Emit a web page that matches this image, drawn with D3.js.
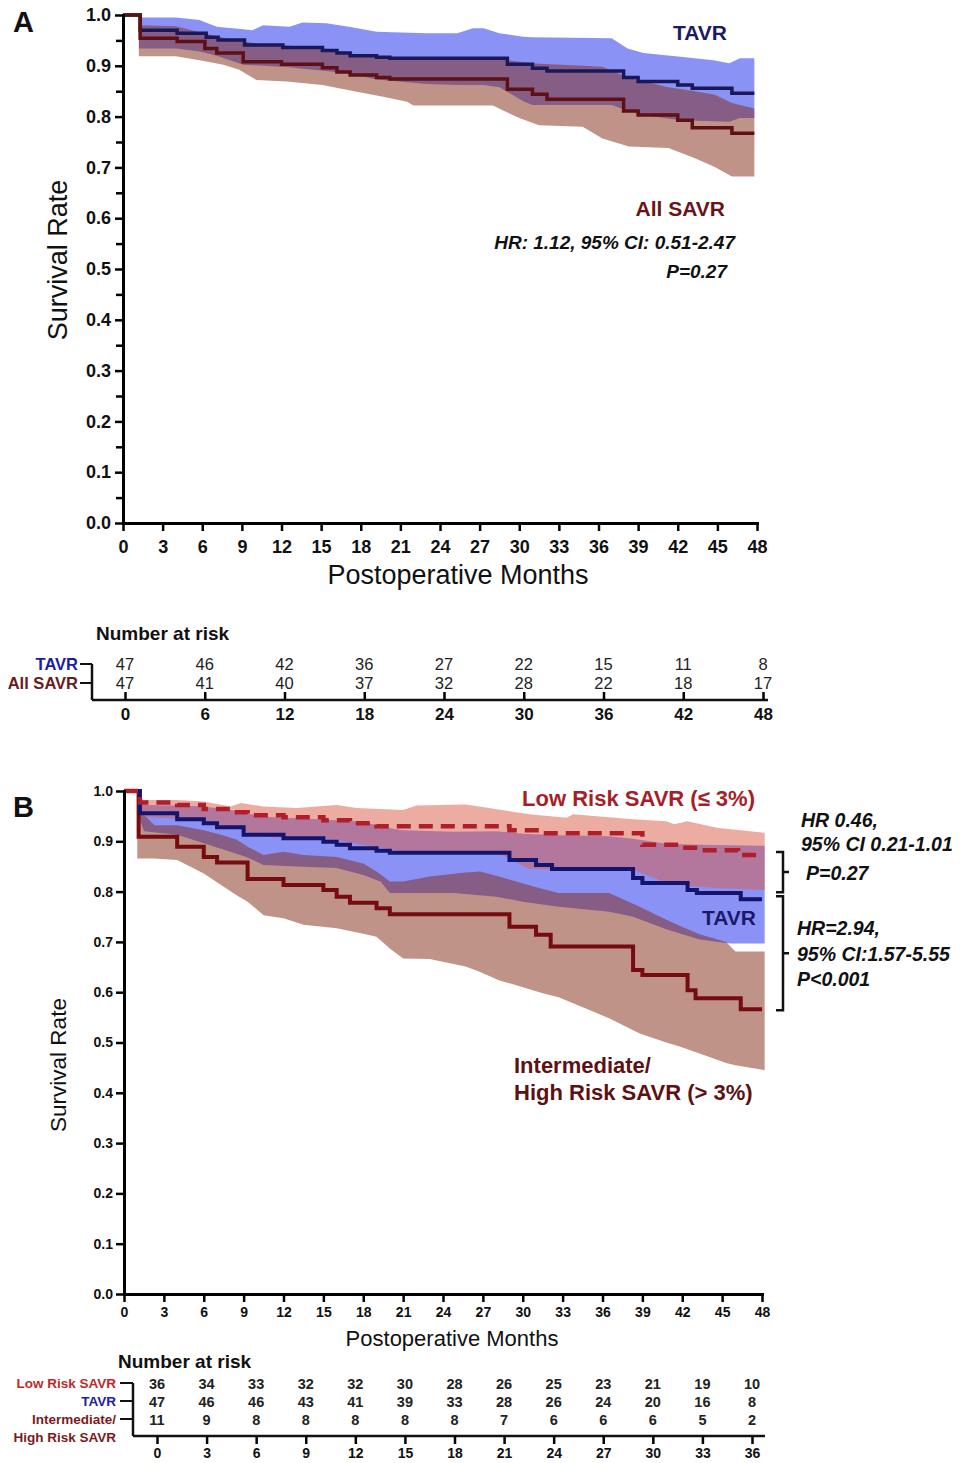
<!DOCTYPE html>
<html>
<head>
<meta charset="utf-8">
<script src="https://cdn.jsdelivr.net/npm/d3@7/dist/d3.min.js"></script>
<style>
body { margin: 0; background: #fff; }
svg { display: block; font-family: "Liberation Sans", Arial, Helvetica, sans-serif; }
</style>
</head>
<body>
<svg id="chart" width="960" height="1463"></svg>
<script>
// ---- shared ticks ----
const monthTicks = [0, 3, 6, 9, 12, 15, 18, 21, 24, 27, 30, 33, 36, 39, 42, 45, 48];
const survTicks = [0, 0.1, 0.2, 0.3, 0.4, 0.5, 0.6, 0.7, 0.8, 0.9, 1.0];
const survMinorTicks = [0.05, 0.15, 0.25, 0.35, 0.45, 0.55, 0.65, 0.75, 0.85, 0.95];

// ---- panel A: Kaplan-Meier steps ----
const endA = 47.8;
const tavrA_t = [0, 1.3, 4.1, 6.3, 7.2, 9.2, 12.1, 15.1, 16.2, 17.2, 19.2, 20.2, 29.1, 31.0, 32.1, 37.9, 39.0, 42.0, 43.1, 46.1];
const tavrA_s = [1.0, 0.970, 0.964, 0.956, 0.951, 0.941, 0.936, 0.930, 0.925, 0.920, 0.917, 0.915, 0.903, 0.895, 0.890, 0.877, 0.869, 0.862, 0.856, 0.846];
const savrA_t = [0, 1.3, 4.1, 6.2, 7.1, 9.1, 12.0, 15.1, 16.2, 17.2, 19.2, 20.2, 29.1, 31.0, 32.1, 37.9, 39.0, 42.0, 43.1, 46.1];
const savrA_s = [1.0, 0.954, 0.948, 0.934, 0.925, 0.908, 0.903, 0.896, 0.888, 0.882, 0.877, 0.874, 0.854, 0.844, 0.834, 0.811, 0.803, 0.793, 0.778, 0.767];

// panel A: 95% CI bands
const tavrA_ciT = [1.2, 4.0, 5.8, 7.1, 9.1, 9.8, 10.6, 12.6, 13.6, 15.4, 17.1, 19.2, 23.0, 25.3, 26.5, 27.3, 28.5, 30.3, 31.0, 37.0, 38.2, 39.4, 42.2, 44.7, 45.9, 46.7, 47.8];
const tavrA_hi = [0.995, 0.995, 0.990, 0.977, 0.972, 0.970, 0.980, 0.977, 0.985, 0.984, 0.977, 0.967, 0.964, 0.964, 0.974, 0.974, 0.964, 0.957, 0.956, 0.954, 0.934, 0.925, 0.918, 0.911, 0.905, 0.915, 0.915];
const tavrA_lo = [0.934, 0.934, 0.928, 0.920, 0.902, 0.901, 0.900, 0.897, 0.894, 0.890, 0.885, 0.873, 0.864, 0.862, 0.862, 0.862, 0.858, 0.830, 0.823, 0.823, 0.812, 0.803, 0.793, 0.791, 0.790, 0.797, 0.797];
const savrA_ciT = [1.2, 4.0, 5.8, 7.6, 8.8, 10.1, 12.4, 15.1, 17.7, 19.7, 21.5, 22.0, 28.0, 30.0, 31.5, 34.8, 36.3, 38.3, 41.3, 43.3, 44.8, 46.1, 47.8];
const savrA_hi = [0.980, 0.978, 0.966, 0.955, 0.950, 0.944, 0.940, 0.935, 0.922, 0.917, 0.913, 0.912, 0.915, 0.908, 0.904, 0.900, 0.898, 0.876, 0.858, 0.850, 0.843, 0.827, 0.816];
const savrA_lo = [0.919, 0.919, 0.911, 0.902, 0.892, 0.872, 0.869, 0.862, 0.849, 0.839, 0.829, 0.822, 0.822, 0.797, 0.783, 0.780, 0.757, 0.741, 0.738, 0.718, 0.701, 0.682, 0.682];

// panel A: number at risk
const riskMonthsA = [0, 6, 12, 18, 24, 30, 36, 42, 48];
const tavrRiskA = [47, 46, 42, 36, 27, 22, 15, 11, 8];
const savrRiskA = [47, 41, 40, 37, 32, 28, 22, 18, 17];

// ---- panel B: Kaplan-Meier steps ----
const endB = 48;
const lowB_t = [0, 1.2, 4.0, 6.0, 8.5, 9.3, 12.0, 15.0, 17.0, 19.0, 29.0, 31.3, 39.0, 42.0, 43.5, 46.2];
const lowB_s = [1.0, 0.977, 0.972, 0.964, 0.958, 0.952, 0.948, 0.942, 0.936, 0.930, 0.922, 0.916, 0.893, 0.887, 0.882, 0.873];
const tavrB_t = [0, 1.2, 4.0, 6.0, 7.0, 9.0, 12.0, 15.0, 16.0, 17.0, 19.0, 20.0, 29.0, 31.0, 32.2, 38.3, 39.0, 42.4, 43.1, 46.4];
const tavrB_s = [1.0, 0.956, 0.944, 0.936, 0.928, 0.913, 0.906, 0.899, 0.893, 0.886, 0.881, 0.877, 0.863, 0.853, 0.845, 0.827, 0.817, 0.803, 0.797, 0.785];
const highB_t = [0, 1.1, 4.0, 6.0, 7.0, 9.3, 12.0, 15.0, 16.0, 17.0, 19.0, 20.0, 29.0, 31.0, 32.1, 38.3, 39.0, 42.4, 43.0, 46.4];
const highB_s = [1.0, 0.909, 0.889, 0.869, 0.858, 0.825, 0.813, 0.803, 0.790, 0.778, 0.767, 0.755, 0.730, 0.714, 0.691, 0.644, 0.634, 0.604, 0.588, 0.566];

// panel B: 95% CI bands
const lowB_ciT = [1.2, 4.0, 6.0, 8.0, 8.8, 10.5, 13.0, 16.0, 17.5, 21.0, 22.0, 25.7, 28.2, 30.5, 33.3, 33.8, 38.3, 40.8, 41.4, 42.4, 44.6, 48.2];
const lowB_hi = [0.982, 0.982, 0.979, 0.969, 0.976, 0.969, 0.966, 0.972, 0.966, 0.962, 0.971, 0.973, 0.963, 0.954, 0.947, 0.954, 0.944, 0.940, 0.934, 0.940, 0.927, 0.917];
const lowB_lo = [0.949, 0.945, 0.939, 0.929, 0.922, 0.909, 0.906, 0.903, 0.895, 0.880, 0.879, 0.877, 0.876, 0.845, 0.843, 0.843, 0.843, 0.818, 0.815, 0.811, 0.807, 0.803];
const tavrB_ciT = [1.0, 1.5, 4.0, 6.0, 8.0, 9.3, 9.7, 10.5, 13.0, 16.0, 18.0, 19.3, 20.0, 21.0, 24.8, 28.0, 30.0, 32.7, 36.5, 38.3, 38.8, 40.8, 43.3, 45.6, 48.2];
const tavrB_hi = [0.985, 0.972, 0.971, 0.969, 0.962, 0.956, 0.953, 0.949, 0.946, 0.942, 0.939, 0.930, 0.926, 0.922, 0.919, 0.920, 0.915, 0.912, 0.910, 0.905, 0.903, 0.895, 0.893, 0.892, 0.891];
const tavrB_lo = [0.960, 0.920, 0.913, 0.896, 0.879, 0.868, 0.863, 0.853, 0.850, 0.847, 0.833, 0.820, 0.797, 0.797, 0.797, 0.790, 0.780, 0.770, 0.760, 0.750, 0.745, 0.725, 0.705, 0.697, 0.697];
const highB_ciT = [1.0, 2.3, 4.0, 6.0, 7.3, 8.5, 9.3, 10.5, 12.0, 13.5, 16.0, 18.0, 19.0, 20.0, 21.0, 23.0, 25.7, 26.8, 28.2, 31.5, 32.7, 35.6, 36.5, 38.8, 40.8, 41.8, 43.3, 45.3, 46.0, 48.2];
const highB_hi = [0.965, 0.932, 0.932, 0.922, 0.913, 0.903, 0.889, 0.873, 0.879, 0.873, 0.869, 0.856, 0.840, 0.820, 0.820, 0.830, 0.838, 0.840, 0.830, 0.805, 0.797, 0.797, 0.797, 0.770, 0.744, 0.732, 0.715, 0.700, 0.681, 0.681];
const highB_lo = [0.866, 0.866, 0.863, 0.836, 0.813, 0.792, 0.780, 0.753, 0.747, 0.734, 0.727, 0.716, 0.710, 0.687, 0.667, 0.666, 0.651, 0.640, 0.624, 0.598, 0.590, 0.558, 0.548, 0.518, 0.500, 0.492, 0.478, 0.459, 0.455, 0.445];

// panel B: number at risk
const riskMonthsB = [0, 3, 6, 9, 12, 15, 18, 21, 24, 27, 30, 33, 36];
const lowRiskB = [36, 34, 33, 32, 32, 30, 28, 26, 25, 23, 21, 19, 10];
const tavrRiskB = [47, 46, 46, 43, 41, 39, 33, 28, 26, 24, 20, 16, 8];
const highRiskB = [11, 9, 8, 8, 8, 8, 8, 7, 6, 6, 6, 5, 2];

// ---- colours ----
const navy = '#1a1858';
const maroon = '#5e1014';
const blueBand = 'rgb(60,75,238)';
const brownBand = 'rgb(130,40,20)';
const pinkBand = 'rgb(220,90,70)';

const svg = d3.select('#chart');

function steps(t, s, end) {
	return t.map((m, i) => [m, s[i]]).concat([[end, s[s.length - 1]]]);
}

function band(t, lo, hi) {
	return t.map((m, i) => [m, lo[i], hi[i]]);
}

function drawBand(g, x, y, data, fill, op) {
	g.append('path')
		.datum(data)
		.attr('fill', fill)
		.attr('fill-opacity', op)
		.attr('d', d3.area()
			.x(d => x(d[0]))
			.y0(d => y(d[1]))
			.y1(d => y(d[2])));
}

function drawStep(g, x, y, data, color, width, dash) {
	g.append('path')
		.datum(data)
		.attr('fill', 'none')
		.attr('stroke', color)
		.attr('stroke-width', width)
		.attr('stroke-dasharray', dash || null)
		.attr('d', d3.line()
			.x(d => x(d[0]))
			.y(d => y(d[1]))
			.curve(d3.curveStepAfter));
}

function styleAxis(sel, fontSize, domainW, tickW) {
	sel.select('.domain').attr('stroke-width', domainW).attr('stroke-linecap', 'square');
	sel.selectAll('.tick line').attr('stroke-width', tickW);
	sel.selectAll('.tick text')
		.attr('font-size', fontSize)
		.attr('font-weight', 'bold')
		.attr('fill', '#111');
	sel.attr('font-family', null);
}

function drawAxes(g, x, y, o) {
	const xa = g.append('g')
		.attr('transform', `translate(0,${y(0)})`)
		.call(d3.axisBottom(x).tickValues(monthTicks).tickSize(o.tick).tickSizeOuter(0).tickPadding(o.xPad));
	styleAxis(xa, o.xFont, 3, 2.5);

	if (o.minor) {
		const ma = g.append('g')
			.attr('transform', `translate(${x(0)},0)`)
			.call(d3.axisLeft(y).tickValues(survMinorTicks).tickSize(o.tick - 1).tickFormat(''));
		ma.select('.domain').remove();
		ma.selectAll('.tick line').attr('stroke-width', 2.5);
	}

	const ya = g.append('g')
		.attr('transform', `translate(${x(0)},0)`)
		.call(d3.axisLeft(y).tickValues(survTicks).tickSize(o.tick).tickSizeOuter(0).tickPadding(o.yPad).tickFormat(d3.format('.1f')));
	styleAxis(ya, o.yFont, 3, 2.5);
}

function text(g, str, x, y, o) {
	return g.append('text')
		.attr('x', x)
		.attr('y', y)
		.attr('font-size', o.size)
		.attr('font-weight', o.weight || 'bold')
		.attr('font-style', o.italic ? 'italic' : null)
		.attr('text-anchor', o.anchor || 'start')
		.attr('fill', o.fill || '#111')
		.text(str);
}

// =============== PANEL A ===============
const xA = d3.scaleLinear().domain([0, 48]).range([123, 757]);
const yA = d3.scaleLinear().domain([0, 1]).range([523, 15]);
const gA = svg.append('g');

drawBand(gA, xA, yA, band(tavrA_ciT, tavrA_lo, tavrA_hi), blueBand, 0.6);
drawBand(gA, xA, yA, band(savrA_ciT, savrA_lo, savrA_hi), brownBand, 0.5);
drawStep(gA, xA, yA, steps(tavrA_t, tavrA_s, endA), navy, 3.5);
drawStep(gA, xA, yA, steps(savrA_t, savrA_s, endA), maroon, 3.5);

drawAxes(gA, xA, yA, { tick: 8, xPad: 9, yPad: 4, xFont: 18, yFont: 18, minor: true });

text(gA, 'A', 13, 32, { size: 29 });
gA.append('text')
	.attr('transform', 'translate(67,260) rotate(-90)')
	.attr('text-anchor', 'middle')
	.attr('font-size', 27)
	.attr('fill', '#111')
	.text('Survival Rate');
text(gA, 'Postoperative Months', 458, 584, { size: 27, weight: 'normal', anchor: 'middle' });

text(gA, 'TAVR', 727, 40, { size: 21, anchor: 'end', fill: '#1d1b5e' });
text(gA, 'All SAVR', 725, 216, { size: 21, anchor: 'end', fill: '#6a1418' });
text(gA, 'HR: 1.12, 95% CI: 0.51-2.47', 735, 249, { size: 19, italic: true, anchor: 'end' });
text(gA, 'P=0.27', 727, 278, { size: 19, italic: true, anchor: 'end' });

// number at risk A
const txA = d3.scaleLinear().domain([0, 48]).range([125, 763]);
const tA = svg.append('g');
const axisYA = 700;
text(tA, 'Number at risk', 96, 640, { size: 19 });

const rowsA = [
	{ label: 'TAVR', vals: tavrRiskA, y: 664, fill: '#1c1ca0' },
	{ label: 'All SAVR', vals: savrRiskA, y: 683, fill: '#6b1a1a' }
];
rowsA.forEach(r => {
	text(tA, r.label, 78, r.y, { size: 16.5, anchor: 'end', fill: r.fill }).attr('dy', '0.35em');
	tA.append('line').attr('x1', 80).attr('x2', 92).attr('y1', r.y).attr('y2', r.y)
		.attr('stroke', '#111').attr('stroke-width', 2);
	tA.selectAll(null)
		.data(r.vals)
		.enter()
		.append('text')
		.attr('x', (d, i) => txA(riskMonthsA[i]))
		.attr('y', r.y)
		.attr('dy', '0.35em')
		.attr('text-anchor', 'middle')
		.attr('font-size', 16.5)
		.attr('fill', '#222')
		.text(d => d);
});
tA.append('line').attr('x1', 92).attr('x2', 92).attr('y1', rowsA[0].y).attr('y2', axisYA)
	.attr('stroke', '#111').attr('stroke-width', 2.5);
tA.append('line').attr('x1', 92).attr('x2', 768).attr('y1', axisYA).attr('y2', axisYA)
	.attr('stroke', '#111').attr('stroke-width', 2.5);
const taA = tA.append('g')
	.attr('transform', `translate(0,${axisYA})`)
	.call(d3.axisBottom(txA).tickValues(riskMonthsA).tickSize(-8).tickPadding(8));
taA.select('.domain').remove();
styleAxis(taA, 17, 0, 2.5);

// =============== PANEL B ===============
const xB = d3.scaleLinear().domain([0, 48]).range([124, 762]);
const yB = d3.scaleLinear().domain([0, 1]).range([1294, 791]);
const gB = svg.append('g');

drawBand(gB, xB, yB, band(tavrB_ciT, tavrB_lo, tavrB_hi), blueBand, 0.6);
drawBand(gB, xB, yB, band(highB_ciT, highB_lo, highB_hi), brownBand, 0.5);
drawBand(gB, xB, yB, band(lowB_ciT, lowB_lo, lowB_hi), pinkBand, 0.5);
drawStep(gB, xB, yB, steps(highB_t, highB_s, endB), '#760c10', 4);
drawStep(gB, xB, yB, steps(tavrB_t, tavrB_s, endB), '#15146c', 4);
drawStep(gB, xB, yB, steps(lowB_t, lowB_s, endB), '#b01e2a', 4.5, '14,8');

drawAxes(gB, xB, yB, { tick: 8, xPad: 5, yPad: 3, xFont: 14, yFont: 14, minor: false });

text(gB, 'B', 13, 817, { size: 29 });
gB.append('text')
	.attr('transform', 'translate(66,1065) rotate(-90)')
	.attr('text-anchor', 'middle')
	.attr('font-size', 22.5)
	.attr('fill', '#111')
	.text('Survival Rate');
text(gB, 'Postoperative Months', 452, 1346, { size: 22, weight: 'normal', anchor: 'middle' });

text(gB, 'Low Risk SAVR (\u2264 3%)', 755, 806, { size: 22, anchor: 'end', fill: '#a81e26' });
text(gB, 'TAVR', 756, 925, { size: 21, anchor: 'end', fill: '#1b1a6a' });
text(gB, 'Intermediate/', 514, 1073, { size: 22, fill: '#5e1012' });
text(gB, 'High Risk SAVR (> 3%)', 514, 1100, { size: 22, fill: '#5e1012' });

text(gB, 'HR 0.46,', 801, 827, { size: 19.5, italic: true });
text(gB, '95% CI 0.21-1.01', 801, 851, { size: 19.5, italic: true });
text(gB, 'P=0.27', 806, 880, { size: 19.5, italic: true });
text(gB, 'HR=2.94,', 797, 935, { size: 19.5, italic: true });
text(gB, '95% CI:1.57-5.55', 797, 961, { size: 19.5, italic: true });
text(gB, 'P<0.001', 797, 986, { size: 19.5, italic: true });

// brackets from the curves' end values
function bracket(g, top, bot, x0) {
	const mid = (top + bot) / 2;
	g.append('path')
		.attr('d', `M${x0},${top}H${x0 + 7}V${bot}H${x0}M${x0 + 7},${mid}H${x0 + 13}`)
		.attr('fill', 'none')
		.attr('stroke', '#111')
		.attr('stroke-width', 2.5);
}
const lowEnd = yB(lowB_s[lowB_s.length - 1]);
const tavrEnd = yB(tavrB_s[tavrB_s.length - 1]);
const highEnd = yB(highB_s[highB_s.length - 1]);
bracket(gB, lowEnd - 3, tavrEnd - 7, 776);
bracket(gB, tavrEnd - 3, highEnd + 1, 776);

// number at risk B
const txB = d3.scaleLinear().domain([0, 36]).range([157, 752]);
const tB = svg.append('g');
const axisYB = 1436;
text(tB, 'Number at risk', 118, 1368, { size: 19 });

const rowsB = [
	{ label: ['Low Risk SAVR'], vals: lowRiskB, y: 1384, fill: '#c0282a' },
	{ label: ['TAVR'], vals: tavrRiskB, y: 1402, fill: '#2020a8' },
	{ label: ['Intermediate/', 'High Risk SAVR'], vals: highRiskB, y: 1420, fill: '#7a1c1c' }
];
rowsB.forEach(r => {
	r.label.forEach((l, k) => {
		text(tB, l, 116, r.y - 1 + k * 18, { size: 13.5, anchor: 'end', fill: r.fill }).attr('dy', '0.35em');
	});
	tB.append('line').attr('x1', 120).attr('x2', 133).attr('y1', r.y - 1).attr('y2', r.y - 1)
		.attr('stroke', '#111').attr('stroke-width', 2);
	tB.selectAll(null)
		.data(r.vals)
		.enter()
		.append('text')
		.attr('x', (d, i) => txB(riskMonthsB[i]))
		.attr('y', r.y)
		.attr('dy', '0.35em')
		.attr('text-anchor', 'middle')
		.attr('font-size', 14.5)
		.attr('font-weight', 'bold')
		.attr('fill', '#222')
		.text(d => d);
});
tB.append('line').attr('x1', 133).attr('x2', 133).attr('y1', rowsB[0].y - 1).attr('y2', axisYB)
	.attr('stroke', '#111').attr('stroke-width', 2.5);
tB.append('line').attr('x1', 133).attr('x2', 765).attr('y1', axisYB).attr('y2', axisYB)
	.attr('stroke', '#111').attr('stroke-width', 2.5);
const taB = tB.append('g')
	.attr('transform', `translate(0,${axisYB})`)
	.call(d3.axisBottom(txB).tickValues(riskMonthsB).tickSize(8).tickPadding(4));
taB.select('.domain').remove();
styleAxis(taB, 14, 0, 2.5);
</script>
</body>
</html>
